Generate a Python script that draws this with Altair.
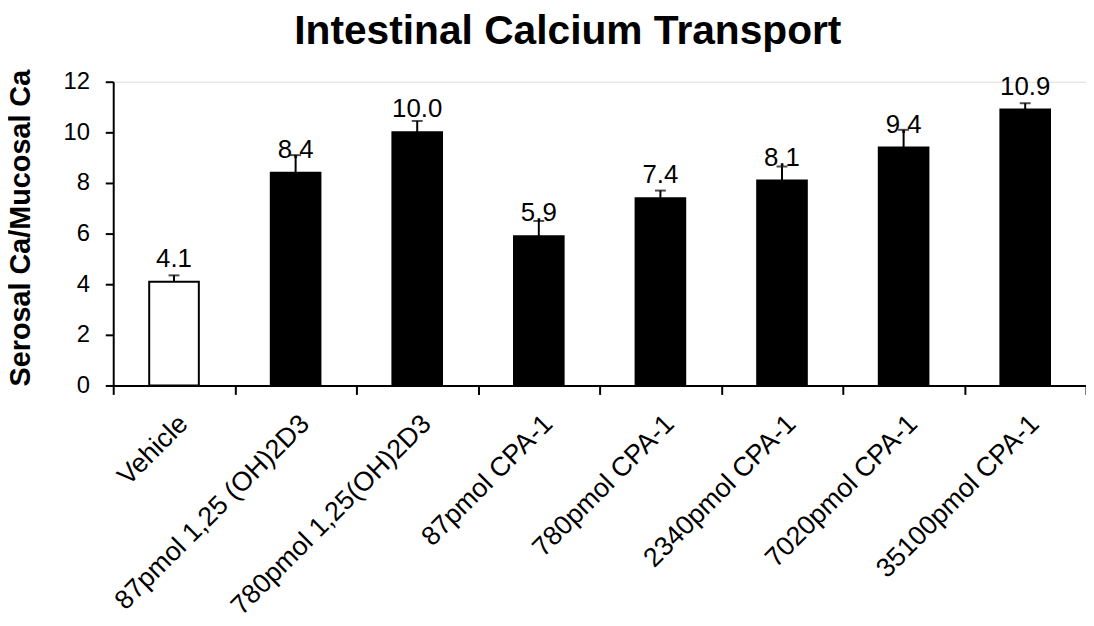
import altair as alt
import pandas as pd

categories = ["Vehicle", "87pmol 1,25 (OH)2D3", "780pmol 1,25(OH)2D3", "87pmol CPA-1",
              "780pmol CPA-1", "2340pmol CPA-1", "7020pmol CPA-1", "35100pmol CPA-1"]
means = [4.1, 8.4, 10.0, 5.9, 7.4, 8.1, 9.4, 10.9]
errors = [0.25, 0.7, 0.45, 0.6, 0.3, 0.55, 0.7, 0.25]
value_labels = ["4.1", "8.4", "10.0", "5.9", "7.4", "8.1", "9.4", "10.9"]
y_ticks = [0, 2, 4, 6, 8, 10, 12]

df = pd.DataFrame({"group": categories, "mean": means, "err": errors, "label": value_labels})
df["upper"] = df["mean"] + df["err"]

FONT = "Liberation Sans"
YTITLE = "Serosal Ca/Mucosal Ca"

x = alt.X("group:N", sort=categories, title=None,
          scale=alt.Scale(paddingInner=0, paddingOuter=0),
          axis=alt.Axis(labelAngle=-45, labelFontSize=27, labelFont=FONT, labelColor="black",
                        labelPadding=16, labelLimit=600, tickBand="extent", tickSize=9,
                        tickColor="black", tickWidth=2, domainColor="black", domainWidth=2))

yscale = alt.Scale(domain=[0, 12], nice=False)
yaxis = alt.Axis(values=y_ticks, title=YTITLE, titleFont=FONT, titleFontSize=29,
                 titleFontWeight="bold", titleColor="black", titleX=-84, titleY=147,
                 titleAlign="center", titleBaseline="alphabetic", titleAngle=270,
                 labelFontSize=24, labelFont=FONT, labelColor="black", labelPadding=16,
                 tickSize=8, tickWidth=2, tickColor="black", domainColor="black",
                 domainWidth=2, grid=False)

base = alt.Chart(df)

bars = base.mark_bar(size=50, stroke="black", strokeWidth=2).encode(
    x=x,
    y=alt.Y("mean:Q", scale=yscale, axis=yaxis, title=YTITLE),
    fill=alt.condition(alt.datum.group == "Vehicle", alt.value("white"), alt.value("black")),
)

rules = base.mark_rule(color="black", strokeWidth=2).encode(
    x=x,
    y=alt.Y("mean:Q", scale=yscale, axis=yaxis, title=YTITLE),
    y2="upper:Q",
)

caps = base.mark_tick(color="black", size=11, thickness=2, orient="horizontal").encode(
    x=x,
    y=alt.Y("upper:Q", scale=yscale, axis=yaxis, title=YTITLE),
)

texts = base.mark_text(dy=-15, baseline="alphabetic", fontSize=26, font=FONT, color="black").encode(
    x=x,
    y=alt.Y("mean:Q", scale=yscale, axis=yaxis, title=YTITLE),
    text="label:N",
)

chart = alt.layer(bars, rules, caps, texts).properties(
    width=980,
    height=306,
    autosize=alt.AutoSizeParams(type="none"),
    padding={"left": 106, "top": 72, "right": 0, "bottom": 232},
    title=alt.TitleParams("Intestinal Calcium Transport", fontSize=41, font=FONT,
                          fontWeight="bold", color="black", anchor="middle", frame="group",
                          dx=-32, dy=36, offset=20, baseline="alphabetic"),
).configure_view(stroke=None).configure(background="white")

chart.save("out.html", embed_options={"renderer": "svg", "actions": False})
